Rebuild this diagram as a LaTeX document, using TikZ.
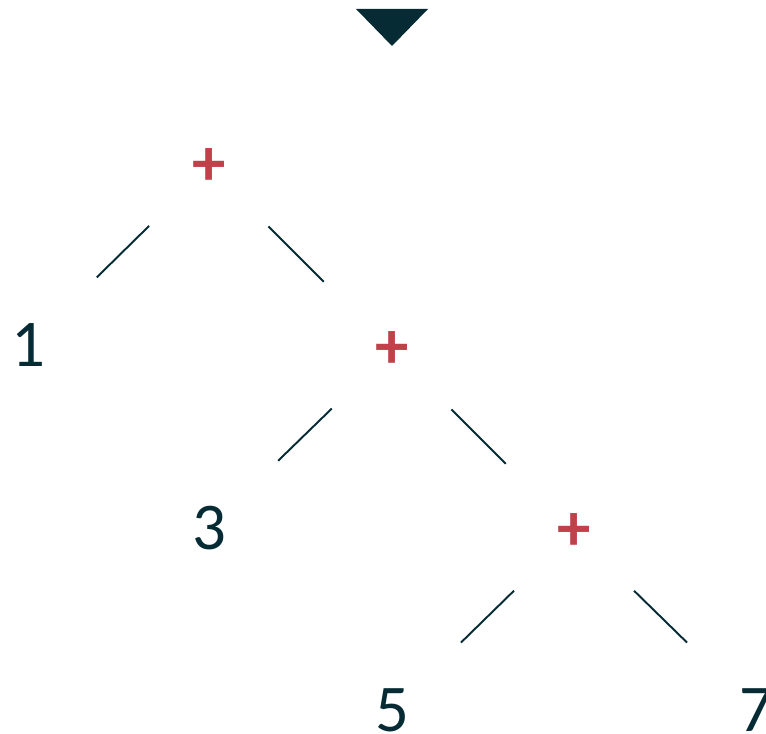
\documentclass[tikz,border=0pt]{standalone}
\usepackage{fontspec}
\setmainfont{Carlito}
\usetikzlibrary{positioning, calc}
\definecolor{tealD}{HTML}{062B35}
\definecolor{redA}{HTML}{C1414B}

\begin{document}
\begin{tikzpicture}[
  x=0.02cm, y=-0.02cm,
  leaf/.style={
    text=tealD, inner sep=0pt,
    font=\fontsize{38}{40}\selectfont
  },
  oper/.style={
    text=redA, inner sep=0pt, yshift=-0.08cm,
    font=\fontsize{38}{40}\selectfont\bfseries
  },
  edge/.style={
    draw=tealD, line width=1.1pt,
    shorten <=1.68cm, shorten >=1.93cm
  }
]
\clip (0,0) rectangle (766,733);

%% ═══ RAIZ ═══
\fill[tealD] (356,9) -- (428,9) -- (392,46) -- cycle;

%% ═══ OPERADORES ═══
\node[oper] (p1) at (209,163) {+};
\node[oper] (p2) at (392,346) {+};
\node[oper] (p3) at (574,528) {+};

%% ═══ FOLHAS ═══
\node[leaf] (n1) at (28,345) {1};
\node[leaf] (n3) at (209,528) {3};
\node[leaf] (n5) at (392,710) {5};
\node[leaf] (n7) at (756,710) {7};

%% ═══ ARESTAS ═══
\draw[edge] (p1.center) -- (n1.center);
\draw[edge] (p1.center) -- (p2.center);
\draw[edge] (p2.center) -- (n3.center);
\draw[edge] (p2.center) -- (p3.center);
\draw[edge] (p3.center) -- (n5.center);
\draw[edge] (p3.center) -- (n7.center);

\end{tikzpicture}
\end{document}
